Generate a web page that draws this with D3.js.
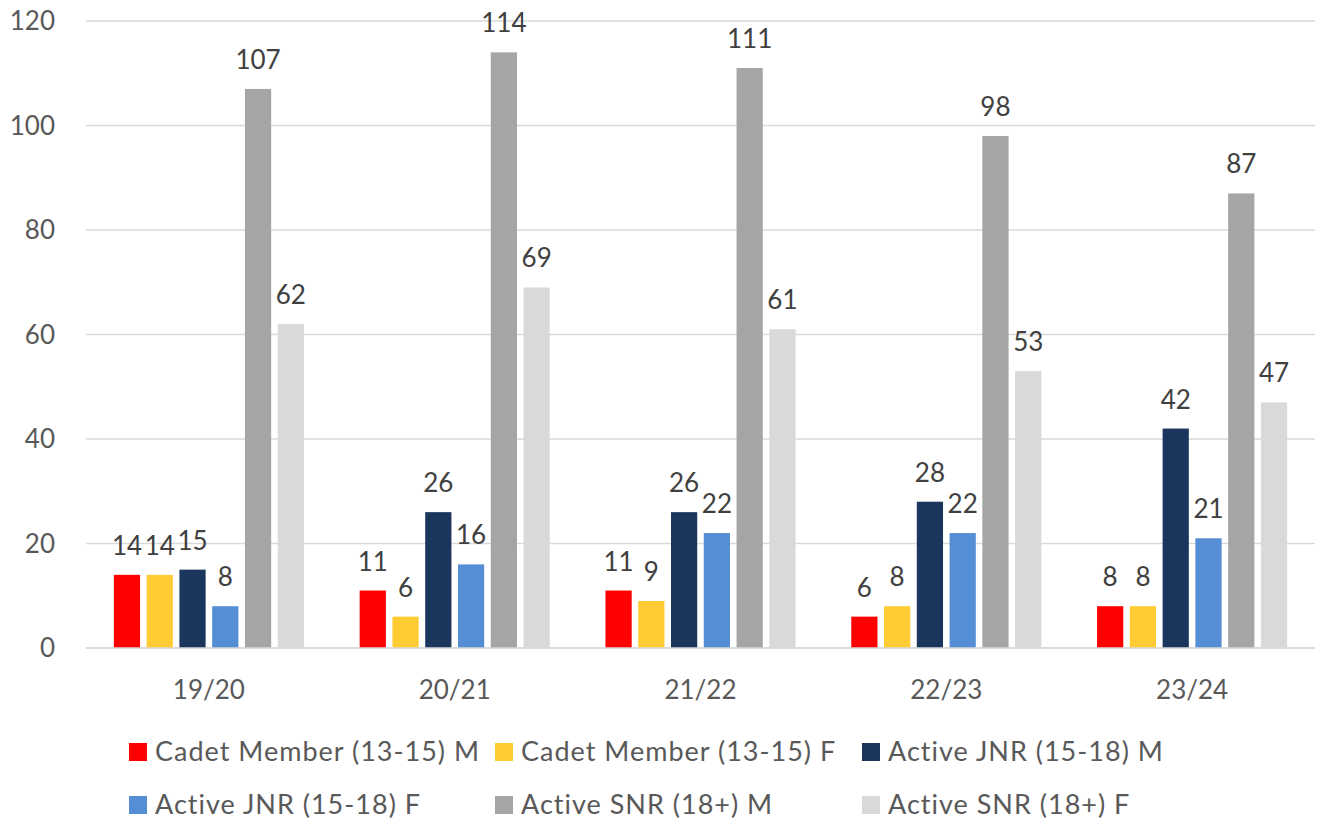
<!DOCTYPE html>
<html><head><meta charset="utf-8">
<script src="https://cdn.jsdelivr.net/npm/d3@7"></script>
<style>body{margin:0;background:#fff}svg{display:block}text{font-family:Lato,"Open Sans",sans-serif;fill:#595959}</style>
</head><body><svg id="c" width="1322" height="819"></svg>
<script>
const categories = ["19/20","20/21","21/22","22/23","23/24"];
const seriesNames = ["Cadet Member (13-15) M","Cadet Member (13-15) F","Active JNR (15-18) M","Active JNR (15-18) F","Active SNR (18+) M","Active SNR (18+) F"];
const cadetM = [14,11,11,6,8];
const cadetF = [14,6,9,8,8];
const jnrM = [15,26,26,28,42];
const jnrF = [8,16,22,22,21];
const snrM = [107,114,111,98,87];
const snrF = [62,69,61,53,47];
const yTicks = [0,20,40,60,80,100,120];
const colors = ["#FF0000","#FFCC33","#1A365D","#558ED5","#A5A5A5","#D9D9D9"];
const seriesValues = [cadetM,cadetF,jnrM,jnrF,snrM,snrF];

const svg = d3.select("#c");
const L=86,R=1315,T=21,B=648;
const x0 = d3.scaleBand().domain(categories).range([L,R]).paddingInner(0.2).paddingOuter(0.1);
const x1 = d3.scaleBand().domain(d3.range(6)).range([0,x0.bandwidth()]).paddingInner(0.2).paddingOuter(0.1);
const y = d3.scaleLinear().domain([0,120]).range([B,T]);

// gridlines
svg.append("g").selectAll("line").data(yTicks).join("line")
  .attr("x1",L).attr("x2",R).attr("y1",d=>y(d)).attr("y2",d=>y(d))
  .attr("stroke","#D9D9D9").attr("stroke-width",1.5);

// y labels
svg.append("g").selectAll("text").data(yTicks).join("text")
  .attr("x",55).attr("y",d=>y(d)).attr("dy","0.35em").attr("text-anchor","end")
  .attr("font-size",26).text(d=>d);

// bars
const g = svg.append("g");
categories.forEach((c,ci)=>{
  seriesValues.forEach((vals,si)=>{
    const v = vals[ci];
    const bx = x0(c)+x1(si);
    g.append("rect").attr("x",bx).attr("y",y(v)).attr("width",x1.bandwidth()).attr("height",y(0)-y(v)).attr("fill",colors[si]);
    g.append("text").attr("x",bx+x1.bandwidth()/2).attr("y",y(v)-20).attr("text-anchor","middle").attr("font-size",26).style("fill","#404040").text(v);
  });
});

// axis line
svg.append("line").attr("x1",L).attr("x2",R).attr("y1",B).attr("y2",B).attr("stroke","#D9D9D9").attr("stroke-width",1.5);

// category labels
svg.append("g").selectAll("text").data(categories).join("text")
  .attr("x",d=>x0(d)+x0.bandwidth()/2).attr("y",699).attr("text-anchor","middle")
  .attr("font-size",26).text(d=>d);

// legend
const legX = [129,495,862];
const legY = [752,805];
seriesNames.forEach((n,i)=>{
  const col=i%3,row=Math.floor(i/3);
  const lg = svg.append("g").attr("transform",`translate(${legX[col]},${legY[row]})`);
  lg.append("rect").attr("x",0).attr("y",-9).attr("width",18).attr("height",18).attr("fill",colors[i]);
  lg.append("text").attr("x",26).attr("y",0).attr("dy","0.35em").attr("font-size",27).attr("letter-spacing",1).text(n);
});
</script></body></html>
